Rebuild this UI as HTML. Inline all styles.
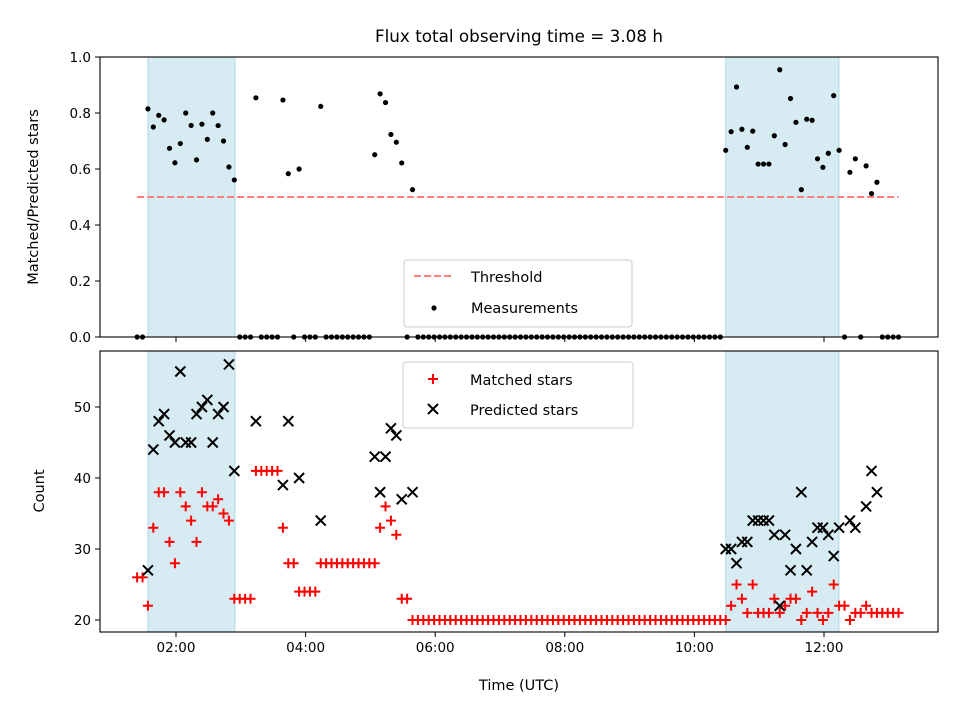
<!DOCTYPE html>
<html><head><meta charset="utf-8"><style>
body{margin:0;background:#fff}
svg{display:block;font-family:"DejaVu Sans","Liberation Sans",sans-serif}
</style></head><body>
<svg id="chart" width="960" height="720" viewBox="0 0 960 720" xmlns="http://www.w3.org/2000/svg" style="position:absolute;left:0;top:0">
<text x="519" y="42" font-size="16.8" text-anchor="middle">Flux total observing time = 3.08 h</text>
<g id="gtop"></g><g id="gbot"></g>
<text transform="translate(38,197) rotate(-90)" font-size="14.5" text-anchor="middle">Matched/Predicted stars</text>
<text transform="translate(44,491) rotate(-90)" font-size="14.5" text-anchor="middle">Count</text>
<text x="519" y="690" font-size="14.5" text-anchor="middle">Time (UTC)</text>
</svg>
<script>
const times=[84,89,94,99,104,109,114,119,124,129,134,139,144,149,154,159,164,169,174,179,184,189,194,199,204,209,214,219,224,229,234,239,244,249,254,259,264,269,274,279,284,289,294,299,304,309,314,319,324,329,334,339,344,349,354,359,364,369,374,379,384,389,394,399,404,409,414,419,424,429,434,439,444,449,454,459,464,469,474,479,484,489,494,499,504,509,514,519,524,529,534,539,544,549,554,559,564,569,574,579,584,589,594,599,604,609,614,619,624,629,634,639,644,649,654,659,664,669,674,679,684,689,694,699,704,709,714,719,724,729,734,739,744,749,754,759,764,769,774,779,784,789];
const matched=[26,26,22,33,38,38,31,28,38,36,34,31,38,36,36,37,35,34,23,23,23,23,41,41,41,41,41,33,28,28,24,24,24,24,28,28,28,28,28,28,28,28,28,28,28,33,36,34,32,23,23,20,
20,20,20,20,20,20,20,20,20,20,
20,20,20,20,20,20,20,20,20,20,
20,20,20,20,20,20,20,20,20,20,
20,20,20,20,20,20,20,20,20,20,
20,20,20,20,20,20,20,20,20,20,
20,20,20,20,20,20,20,
20,22,25,23,21,25,21,21,21,23,21,22,23,23,20,21,24,21,20,21,25,22,22,20,21,21,22,21,21,21,21,21,21];
const N=null;
const predicted=[N,N,27,44,48,49,46,45,55,45,45,49,50,51,45,49,50,56,41,N,N,N,48,N,N,N,N,39,48,N,40,N,N,N,34,N,N,N,N,N,N,N,N,N,43,38,43,47,46,37,N,38,
N,N,N,N,N,N,N,N,N,N,
N,N,N,N,N,N,N,N,N,N,
N,N,N,N,N,N,N,N,N,N,
N,N,N,N,N,N,N,N,N,N,
N,N,N,N,N,N,N,N,N,N,
N,N,N,N,N,N,N,
30,30,28,31,31,34,34,34,34,32,22,32,27,30,38,27,31,33,33,32,29,33,N,34,33,N,36,41,38,N,N,N,N];
const spans=[[94,174.6],[629,733.8]];
const threshold=0.5;
const topTicks=[0,0.2,0.4,0.6,0.8,1.0];
const botTicks=[20,30,40,50];
const xTicks=[120,240,360,480,600,720];
const xTickLabels=["02:00","04:00","06:00","08:00","10:00","12:00"];

const NS="http://www.w3.org/2000/svg";
const L=100,R=938,T1=57,B1=337,T2=351,B2=632;
const X=m=>176+(m/60-2)*64.8;
const Y1=v=>337-280*v;
const Y2=v=>620-7.1*(v-20);
function mk(p,tag,a){const e=document.createElementNS(NS,tag);for(const k in a)e.setAttribute(k,a[k]);p.appendChild(e);return e;}
const gTop=document.getElementById('gtop'),gBot=document.getElementById('gbot');
[[gTop,T1,B1],[gBot,T2,B2]].forEach(([g,t,b])=>{
  spans.forEach(s=>{
    const r=mk(g,'rect',{x:X(s[0]),y:t,width:X(s[1])-X(s[0]),height:b-t,fill:'#add8e6','fill-opacity':0.5,stroke:'#add8e6','stroke-width':1});
    
    
  });
});
const th=mk(gTop,'line',{x1:X(times[0]),x2:X(times[times.length-1]),y1:Y1(threshold),y2:Y1(threshold),stroke:'#ff7f7f','stroke-width':2,'stroke-dasharray':'7,3'});


times.forEach((t,i)=>{
  const r=predicted[i]?matched[i]/predicted[i]:0;
  const c=mk(gTop,'circle',{cx:X(t),cy:Y1(r),r:2.6,fill:'#000'});
  
  
});
times.forEach((t,i)=>{
  const x=X(t),y=Y2(matched[i]);
  const p=mk(gBot,'path',{d:`M${x-5},${y}H${x+5}M${x},${y-5}V${y+5}`,stroke:'#f00','stroke-width':2});
  
  
});
times.forEach((t,i)=>{
  if(predicted[i]==null)return;
  const x=X(t),y=Y2(predicted[i]);
  const p=mk(gBot,'path',{d:`M${x-5},${y-5}L${x+5},${y+5}M${x-5},${y+5}L${x+5},${y-5}`,stroke:'#000','stroke-width':2});
  
  
});
[[gTop,T1,B1,false],[gBot,T2,B2,true]].forEach(([g,t,b,lab])=>{
  const f=mk(g,'rect',{x:L,y:t,width:R-L,height:b-t,fill:'none',stroke:'#000','stroke-width':1.1});
  
  
  xTicks.forEach((m,i)=>{
    mk(g,'line',{x1:X(m),x2:X(m),y1:b,y2:b+5,stroke:'#000'});
    if(lab){const tx=mk(g,'text',{x:X(m),y:b+20,'font-size':13.5,'text-anchor':'middle'});tx.textContent=xTickLabels[i];
      
      }
  });
});
topTicks.forEach(v=>{
  mk(gTop,'line',{x1:L-5,x2:L,y1:Y1(v),y2:Y1(v),stroke:'#000'});
  const tx=mk(gTop,'text',{x:L-9,y:Y1(v)+5,'font-size':13.5,'text-anchor':'end'});tx.textContent=v.toFixed(1);
  
  
});
botTicks.forEach(v=>{
  mk(gBot,'line',{x1:L-5,x2:L,y1:Y2(v),y2:Y2(v),stroke:'#000'});
  const tx=mk(gBot,'text',{x:L-9,y:Y2(v)+5,'font-size':13.5,'text-anchor':'end'});tx.textContent=v;
  
  
});
</script>
<svg style="position:absolute;left:0;top:0" width="960" height="720">
<g font-family="DejaVu Sans, Liberation Sans, sans-serif" font-size="14.5">
<rect x="404" y="260" width="228" height="67" rx="3" fill="#fff" fill-opacity="0.8" stroke="#ccc"/>
<line x1="414" x2="454" y1="276" y2="276" stroke="#ff7f7f" stroke-width="2" stroke-dasharray="7,3"/>
<text x="471" y="282">Threshold</text>
<circle cx="434" cy="308" r="2.6" fill="#000"/>
<text x="471" y="313">Measurements</text>
</g>
<g font-family="DejaVu Sans, Liberation Sans, sans-serif" font-size="14.5">
<rect x="403" y="362" width="230" height="66" rx="3" fill="#fff" fill-opacity="0.8" stroke="#ccc"/>
<path d="M428,379H438M433,374V384" stroke="#f00" stroke-width="2"/>
<text x="470" y="385">Matched stars</text>
<path d="M428,404L438,414M428,414L438,404" stroke="#000" stroke-width="2"/>
<text x="470" y="415">Predicted stars</text>
</g>
</svg>
</body></html>
